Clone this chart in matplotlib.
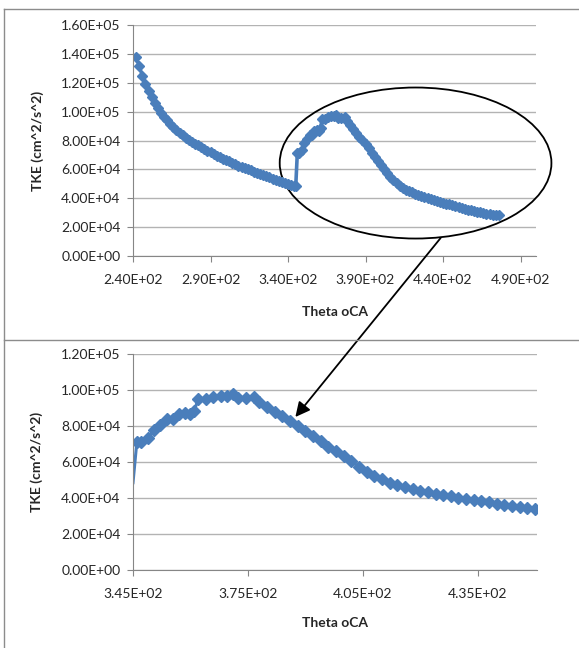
import numpy as np
import matplotlib
matplotlib.use('Agg')
import matplotlib.pyplot as plt
from matplotlib.patches import Ellipse, ConnectionPatch
from matplotlib.lines import Line2D
from matplotlib.ticker import FuncFormatter

plt.rcParams['font.family'] = ['Lato', 'DejaVu Sans']

# datos (angulo de ciguenal, TKE)
theta = [242, 244, 246, 248, 250, 252, 254, 256, 258, 260, 262, 264, 266, 268, 270,
         272, 274, 276, 278, 280, 282, 284, 286, 288, 290, 292, 294, 296, 298, 300,
         302, 304, 306, 308, 310, 312, 314, 316, 318, 320, 322, 324, 326, 328, 330,
         332, 334, 336, 338, 340, 342, 344, 345, 346, 347, 349, 350.6, 352, 354, 355.5,
         357, 358.5, 360, 361, 362, 364, 366, 368, 369.5, 371, 372.5, 374.5, 376.5, 378,
         380, 382, 384, 386, 388, 390, 392, 394, 396, 398, 400, 402, 404, 406, 408,
         410, 412, 414, 416, 418, 420, 422, 424, 426, 428, 430, 432, 434, 436, 438,
         440, 442, 444, 446, 448, 450, 452, 454, 456, 458, 460, 462, 464, 466, 468,
         470, 472, 474, 476]
tke = [137500, 131500, 125000, 119000, 114000, 110000, 106000, 102500, 99000, 96500,
       94000, 91500, 89500, 87500, 85500, 83500, 82000, 80500, 79000, 77800,
       76600, 75400, 74200, 73000, 71800, 70700, 69600, 68500, 67500, 66500,
       65500, 64500, 63500, 62600, 61800, 61000, 60200, 59300, 58400, 57500,
       56700, 56000, 55200, 54400, 53600, 52900, 52200, 51500, 50800, 50100,
       49400, 48800, 48500, 71000, 71300, 73300, 78000, 80800, 83700, 83700,
       86500, 87400, 86900, 88400, 95000, 95000, 96000, 96900, 96900, 97900,
       95600, 95600, 96000, 93500, 90500, 88000, 85500, 82700, 80200, 77500,
       74700, 71500, 68600, 65900, 63300, 60300, 57400, 54600, 52400, 50500,
       48600, 47200, 46000, 45000, 44100, 43200, 42300, 41600, 40900, 40200,
       39600, 38900, 38200, 37600, 36900, 36300, 35700, 35100, 34500, 34000,
       33400, 32800, 32200, 31700, 31200, 30700, 30200, 29800, 29400, 29000,
       28700, 28400, 28100]

xticks_top = [240, 290, 340, 390, 440, 490]
yticks_top = [0, 20000, 40000, 60000, 80000, 100000, 120000, 140000, 160000]
xticks_bot = [345, 375, 405, 435]
yticks_bot = [0, 20000, 40000, 60000, 80000, 100000, 120000]

theta = np.array(theta)
tke = np.array(tke)

azul = '#4a7ebb'
gris = '#868686'
fmt = FuncFormatter(lambda v, p: '{:.2E}'.format(v))

fig = plt.figure(figsize=(5.79, 6.48), dpi=100)
W, H = 579.0, 648.0

# marcos de los dos graficos
fig.add_artist(Line2D([4/W, 1], [1-9/H, 1-9/H], color='#8c8c8c', lw=1))
fig.add_artist(Line2D([4/W, 1], [1-340/H, 1-340/H], color='#8c8c8c', lw=1))
fig.add_artist(Line2D([4/W, 4/W], [0, 1-9/H], color='#8c8c8c', lw=1))

ax1 = fig.add_axes([133/W, 1-256/H, 403/W, 231/H])
ax2 = fig.add_axes([133/W, 1-570/H, 404/W, 216/H])

ax1.plot(theta, tke, '-', color=azul, lw=2.6, marker='D', ms=5.5, mec=azul, mfc=azul)
sel = (theta >= 345) & (theta <= 450)
ax2.plot(theta[sel], tke[sel], '-', color=azul, lw=2.2,
         marker='D', ms=6, mec=azul, mfc=azul, markevery=list(range(1, sel.sum())))

ax1.set_xlim(240, 500)
ax1.set_ylim(0, 160000)
ax1.set_xticks(xticks_top)
ax1.set_yticks(yticks_top)
ax2.set_xlim(345, 450.5)
ax2.set_ylim(0, 120000)
ax2.set_xticks(xticks_bot)
ax2.set_yticks(yticks_bot)

for ax in [ax1, ax2]:
    ax.xaxis.set_major_formatter(fmt)
    ax.yaxis.set_major_formatter(fmt)
    ax.spines['top'].set_visible(False)
    ax.spines['right'].set_visible(False)
    ax.spines['left'].set_color(gris)
    ax.spines['bottom'].set_color(gris)
    ax.yaxis.grid(True, color='#b3b3b3', lw=1)
    ax.set_axisbelow(True)
    ax.tick_params(axis='both', direction='out', length=4, color=gris,
                   labelsize=10, labelcolor='#262626')
    ax.tick_params(axis='x', pad=9)
    ax.tick_params(axis='y', pad=5)
    ax.set_ylabel('TKE (cm^2/s^2)', fontweight='bold', fontsize=10, color='#262626')
    ax.set_xlabel('Theta oCA', fontweight='bold', fontsize=10, color='#262626')

ax1.yaxis.set_label_coords(-0.222, 0.5)
ax1.xaxis.set_label_coords(0.5, -0.216)
ax2.yaxis.set_label_coords(-0.222, 0.5)
ax2.xaxis.set_label_coords(0.5, -0.218)

# elipse que marca la zona ampliada
elip = Ellipse((422.3, 64400), 175.3, 104600, fill=False, ec='black', lw=1.3, clip_on=False)
ax1.add_patch(elip)

# flecha hacia el grafico ampliado
flecha = ConnectionPatch(xyA=(438.5, 12500), coordsA=ax1.transData,
                         xyB=(387.4, 85000), coordsB=ax2.transData,
                         arrowstyle='-|>', mutation_scale=22, color='black', lw=1.3)
fig.add_artist(flecha)

plt.savefig('out.png', dpi=100)
